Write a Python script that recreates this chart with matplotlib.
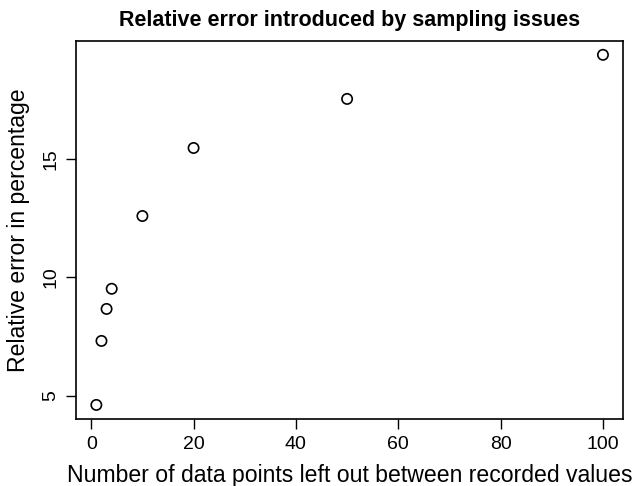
import matplotlib
matplotlib.use('Agg')
import matplotlib.pyplot as plt

# data
gap = [1, 2, 3, 4, 10, 20, 50, 100]
rel_err = [4.62, 7.32, 8.67, 9.52, 12.59, 15.46, 17.53, 19.39]
x_ticks = [0, 20, 40, 60, 80, 100]
y_ticks = [5, 10, 15]

plt.rcParams['font.family'] = ['Liberation Sans', 'DejaVu Sans']

fig = plt.figure(figsize=(6.34, 4.86), dpi=100)
ax = fig.add_axes([0.12, 0.138, 0.863, 0.778])

ax.scatter(gap, rel_err, s=55, facecolors='none', edgecolors='black', linewidths=1.2)

# R style 4% padding
xr = max(gap) - min(gap)
yr = max(rel_err) - min(rel_err)
ax.set_xlim(min(gap) - 0.04 * xr, max(gap) + 0.04 * xr)
ax.set_ylim(min(rel_err) - 0.04 * yr, max(rel_err) + 0.04 * yr)

ax.set_xticks(x_ticks)
ax.set_yticks(y_ticks)
ax.tick_params(direction='out', length=7, width=1, labelsize=14, pad=5)
for lbl in ax.get_yticklabels():
    lbl.set_rotation(90)
    lbl.set_va('center')
for s in ax.spines.values():
    s.set_linewidth(1.2)

ax.set_xlabel('Number of data points left out between recorded values', fontsize=16.6, labelpad=8)
ax.set_ylabel('Relative error in percentage', fontsize=16.6, labelpad=9)
ax.set_title('Relative error introduced by sampling issues', fontsize=15.5, fontweight='bold', pad=11)

fig.savefig('out.png', dpi=100)
